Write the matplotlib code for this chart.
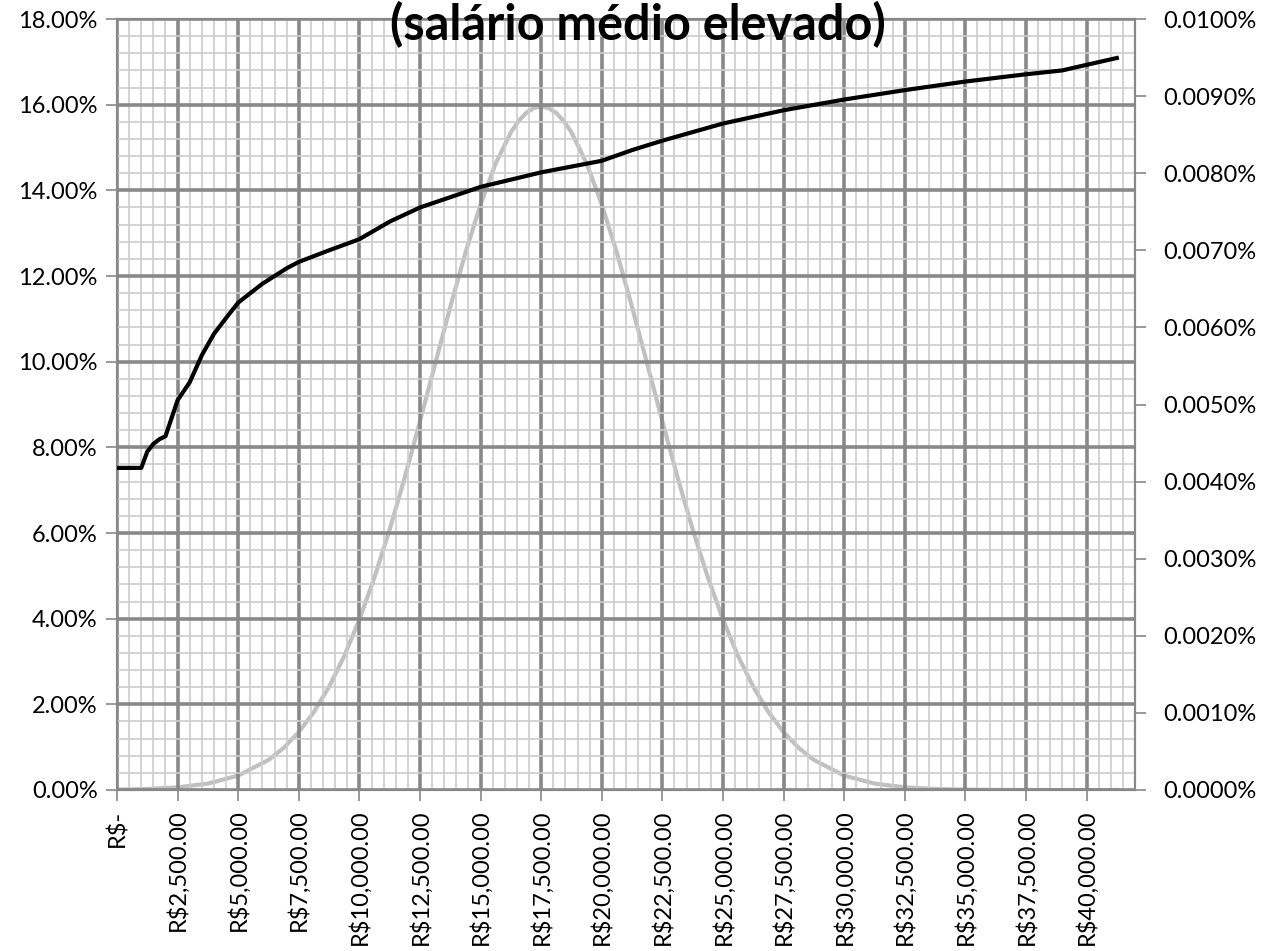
import matplotlib.pyplot as plt
from matplotlib.ticker import MultipleLocator, FuncFormatter

# effective rate curve (left axis, %)
salario = [0, 1000, 1250, 1500, 1750, 2000, 2500, 3000, 3500, 4000, 4500, 5000,
           6000, 7000, 7500, 8750, 10000, 11250, 12500, 15000, 17500, 20000,
           21250, 22500, 25000, 27500, 30000, 32500, 35000, 37500, 39000, 40000, 41250]
aliquota = [7.52, 7.52, 7.90, 8.08, 8.19, 8.26, 9.10, 9.52, 10.15, 10.65, 11.02, 11.38,
            11.82, 12.18, 12.33, 12.60, 12.86, 13.27, 13.60, 14.08, 14.42, 14.69,
            14.94, 15.16, 15.56, 15.87, 16.12, 16.34, 16.54, 16.71, 16.80, 16.93, 17.09]

# salary distribution (right axis, %)
dist_x = [0, 1250, 2500, 3750, 5000, 6250, 6875, 7500, 8125, 8750, 9375, 10000,
          10625, 11250, 11875, 12500, 13125, 13750, 14375, 15000, 15625, 16250,
          16562.5, 16875, 17187.5, 17500, 17812.5, 18125, 18437.5, 18750, 19375,
          20000, 20625, 21250, 21875, 22500, 23125, 23750, 24375, 25000, 25625,
          26250, 26875, 27500, 28125, 28750, 30000, 31250, 32500, 33750, 35000,
          36250, 37500, 38750, 40000, 41250]
dist_y = [0.0000046, 0.0000131, 0.0000343, 0.0000832, 0.000187, 0.000390, 0.000546,
          0.000751, 0.001012, 0.001339, 0.001737, 0.002211, 0.002760, 0.003379,
          0.004058, 0.004782, 0.005527, 0.006265, 0.006966, 0.007597, 0.008128,
          0.008530, 0.008675, 0.008780, 0.008844, 0.008865, 0.008844, 0.008780,
          0.008675, 0.008530, 0.008128, 0.007597, 0.006966, 0.006265, 0.005527,
          0.004782, 0.004058, 0.003379, 0.002760, 0.002211, 0.001737, 0.001339,
          0.001012, 0.000751, 0.000546, 0.000390, 0.000187, 0.0000832, 0.0000343,
          0.0000131, 0.0000046, 0.0000015, 0.0000005, 0.0000001, 0.0, 0.0]

plt.rcParams['font.family'] = ['Lato', 'DejaVu Sans']

fig = plt.figure(figsize=(12.76, 9.51), dpi=100)
ax = fig.add_axes([0.0917, 0.1693, 0.7978, 0.8107])
ax2 = ax.twinx()

ax.set_xlim(0, 42000)
ax.set_ylim(0, 18)
ax2.set_ylim(0, 0.01)

ax.xaxis.set_major_locator(MultipleLocator(2500))
ax.xaxis.set_minor_locator(MultipleLocator(500))
ax.yaxis.set_major_locator(MultipleLocator(2))
ax.yaxis.set_minor_locator(MultipleLocator(0.4))
ax2.yaxis.set_major_locator(MultipleLocator(0.001))

ax.grid(which='major', color='#888888', lw=2.6)
ax.grid(which='minor', color='#cccccc', lw=1.2)
ax.set_axisbelow(True)

def fmt_real(v, pos):
    if v == 0:
        return 'R\\$-'
    if v > 40000:
        return ''
    return 'R\\$' + f'{v:,.2f}'

ax.xaxis.set_major_formatter(FuncFormatter(fmt_real))
ax.yaxis.set_major_formatter(FuncFormatter(lambda v, p: f'{v:.2f}%'))
ax2.yaxis.set_major_formatter(FuncFormatter(lambda v, p: f'{v:.4f}%'))

ax.tick_params(axis='x', which='major', labelsize=17, length=8, width=1.2,
               color='#888888', pad=6, labelrotation=90)
ax.tick_params(axis='y', which='major', labelsize=17, length=8, width=1.2,
               color='#888888', pad=6)
ax.tick_params(which='minor', length=0)
ax2.tick_params(axis='y', labelsize=17, length=8, width=1.2, color='#888888', pad=12)

for a in (ax, ax2):
    for s in a.spines.values():
        s.set_color('#888888')
        s.set_linewidth(1.5)

ax2.plot(dist_x, dist_y, color='#c0c0c0', lw=3, solid_joinstyle='round')
ax.plot(salario, aliquota, color='black', lw=3, solid_joinstyle='round', zorder=5)
ax.set_zorder(ax2.get_zorder() + 1)
ax.patch.set_visible(False)

fig.text(0.5, 0.958, '(salário médio elevado)', ha='center', va='baseline',
         fontsize=35, fontweight='bold')

fig.savefig('out.png')
